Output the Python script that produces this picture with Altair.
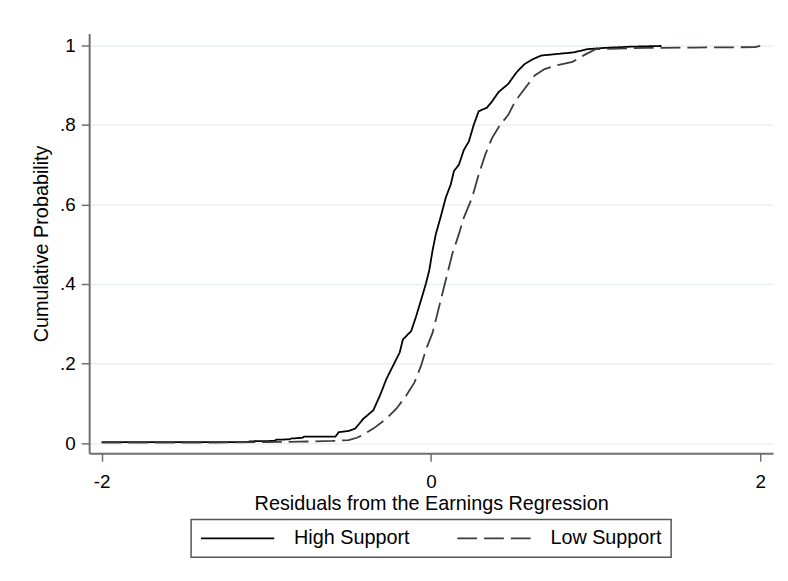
import altair as alt
import pandas as pd

# High Support (solid) ECDF
high_x = [-2.00, -1.12, -1.10, -0.95, -0.94, -0.86, -0.85, -0.78, -0.77, -0.58, -0.56, -0.50,
          -0.46, -0.41, -0.35, -0.31, -0.27, -0.23, -0.19, -0.17, -0.12, -0.09, -0.06, -0.03,
          -0.01, 0.01, 0.03, 0.06, 0.09, 0.12, 0.14, 0.17, 0.20, 0.23, 0.26, 0.29, 0.34, 0.37,
          0.41, 0.47, 0.52, 0.57, 0.62, 0.67, 0.77, 0.87, 0.95, 1.05, 1.20, 1.40]
high_y = [0.003, 0.003, 0.005, 0.006, 0.009, 0.010, 0.012, 0.014, 0.017, 0.017, 0.028, 0.031,
          0.037, 0.062, 0.083, 0.120, 0.162, 0.195, 0.228, 0.261, 0.282, 0.319, 0.360, 0.402,
          0.435, 0.485, 0.526, 0.570, 0.617, 0.650, 0.684, 0.700, 0.737, 0.758, 0.800, 0.834,
          0.843, 0.858, 0.882, 0.903, 0.932, 0.953, 0.965, 0.974, 0.978, 0.982, 0.990, 0.993,
          0.996, 0.998]

# Low Support (dashed) ECDF
low_x = [-2.00, -1.30, -1.00, -0.80, -0.60, -0.50, -0.45, -0.41, -0.35, -0.27, -0.21, -0.15,
         -0.10, -0.06, -0.03, 0.01, 0.04, 0.07, 0.10, 0.13, 0.17, 0.20, 0.25, 0.29, 0.33, 0.37,
         0.42, 0.47, 0.51, 0.57, 0.63, 0.69, 0.77, 0.86, 0.93, 1.00, 1.30, 1.60, 1.97, 2.00]
low_y = [0.002, 0.002, 0.003, 0.004, 0.006, 0.008, 0.014, 0.022, 0.037, 0.062, 0.087, 0.120,
         0.153, 0.195, 0.236, 0.278, 0.327, 0.377, 0.427, 0.476, 0.526, 0.567, 0.617, 0.675,
         0.725, 0.766, 0.800, 0.825, 0.858, 0.891, 0.924, 0.940, 0.950, 0.958, 0.975, 0.990,
         0.993, 0.994, 0.995, 0.998]

series = ["High Support", "Low Support"]
x_ticks = [-2, 0, 2]
y_ticks = [0, 0.2, 0.4, 0.6, 0.8, 1]

df = pd.concat([
    pd.DataFrame({"x": high_x, "y": high_y, "series": series[0], "order": range(len(high_x))}),
    pd.DataFrame({"x": low_x, "y": low_y, "series": series[1], "order": range(len(low_x))}),
])

FONT = "Liberation Sans"

legend = alt.Legend(title=None, orient="none", legendX=103, legendY=491,
                    direction="horizontal", symbolType="M-1,0L7.22,0", symbolSize=324,
                    symbolStrokeWidth=1.8,
                    labelFont=FONT, labelFontSize=20, labelColor="#000000",
                    labelOffset=75, columnPadding=44, padding=9,
                    strokeColor="#555555", fillColor="#ffffff")

lines = alt.Chart(df).mark_line(strokeWidth=1.8).encode(
    x=alt.X("x:Q",
            scale=alt.Scale(domain=[-2.076, 2.078], nice=False, zero=False),
            axis=alt.Axis(values=x_ticks, title="Residuals from the Earnings Regression",
                          grid=False, labelPadding=12, titlePadding=2,
                          labelExpr="datum.value < 0 ? '-' + abs(datum.value) : '' + datum.value")),
    y=alt.Y("y:Q",
            scale=alt.Scale(domain=[-0.025, 1.029], nice=False, zero=False),
            axis=alt.Axis(values=y_ticks, title="Cumulative Probability", grid=True,
                          labelPadding=6, titlePadding=8,
                          labelExpr="datum.value == 0 ? '0' : (datum.value == 1 ? '1' : replace(format(datum.value, '.1f'), '0.', '.'))")),
    order="order:Q",
    color=alt.Color("series:N", scale=alt.Scale(domain=series, range=["#000000", "#3c3c3c"]), legend=legend),
    strokeDash=alt.StrokeDash(
        "series:N",
        scale=alt.Scale(domain=series, range=[[1, 0], [20, 7]]),
        legend=legend),
)

title = alt.Chart(pd.DataFrame({"t": ["A. Men"]})).mark_text(
    font="Liberation Serif", fontSize=34, baseline="alphabetic", align="center", color="#000000"
).encode(x=alt.value(338), y=alt.value(-26), text="t:N")

chart = alt.layer(lines, title).properties(
    width=691, height=424,
    autosize=alt.AutoSizeParams(type="none"),
    padding={"left": 82, "top": 23, "right": 7, "bottom": 110},
).configure_view(stroke=None).configure_axis(
    labelFont=FONT, labelFontSize=19, labelColor="#000000",
    titleFont=FONT, titleFontSize=20, titleColor="#000000", titleFontWeight="normal",
    domainColor="#6e6e6e", domainWidth=2, tickColor="#6e6e6e", tickWidth=1.5, tickSize=8,
    gridColor="#e8f0f2", gridWidth=1.5,
).configure_legend(strokeWidth=1.5)

chart.save("out.html", embed_options={"renderer": "svg", "actions": False})
